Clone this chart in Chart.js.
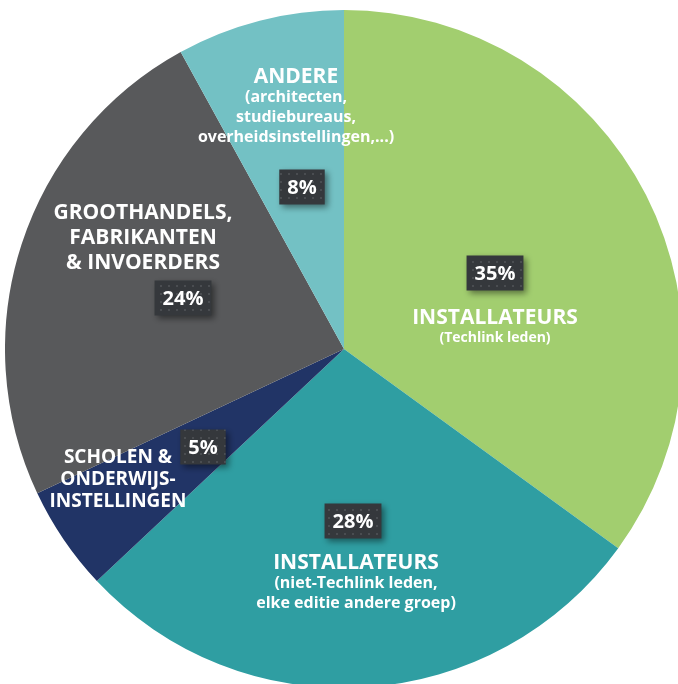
<!DOCTYPE html>
<html>
<head>
<meta charset="utf-8">
<script src="https://cdn.jsdelivr.net/npm/chart.js@4/dist/chart.umd.min.js"></script>
<style>
  html, body { margin: 0; padding: 0; background: #fff; overflow: hidden; }
  #wrap { position: absolute; left: 5px; top: 10px; width: 678px; height: 678px; }
</style>
</head>
<body>
<div id="wrap"><canvas id="pieChart"></canvas></div>
<script>
// slices clockwise from 12 o'clock
const categories = [
    'INSTALLATEURS',
    'INSTALLATEURS',
    'SCHOLEN & ONDERWIJSINSTELLINGEN',
    'GROOTHANDELS, FABRIKANTEN & INVOERDERS',
    'ANDERE'
];
const shares = [35, 28, 5, 24, 8];
const sliceColors = ['#a2ce6f', '#2f9ea2', '#213466', '#58595b', '#73c1c4'];

// label text, one entry per slice
const titleLines = [
    ['INSTALLATEURS'],
    ['INSTALLATEURS'],
    ['SCHOLEN &', 'ONDERWIJS-', 'INSTELLINGEN'],
    ['GROOTHANDELS,', 'FABRIKANTEN', '& INVOERDERS'],
    ['ANDERE']
];
const subtitleLines = [
    ['(Techlink leden)'],
    ['(niet-Techlink leden,', 'elke editie andere groep)'],
    [],
    [],
    ['(architecten,', 'studiebureaus,', 'overheidsinstellingen,...)']
];

// where each label sits, offsets from pie centre (in px of a 339 radius pie)
const labelLayout = [
    { box: [151, -76], title: [151, -31], titleSize: 21, lineH: 21, subSize: 14 },
    { box: [9, 172], title: [12, 214], titleSize: 21, lineH: 21, subSize: 16 },
    { box: [-141, 98], title: [-226, 109], titleSize: 19, lineH: 22, subSize: 16 },
    { box: [-161, -51], title: [-201, -136], titleSize: 21, lineH: 25, subSize: 16 },
    { box: [-42, -162], title: [-48, -272], titleSize: 21, lineH: 21, subSize: 16 }
];

function makeDotPattern(ctx) {
    const c = document.createElement('canvas');
    c.width = 8; c.height = 8;
    const p = c.getContext('2d');
    p.fillStyle = '#35383c';
    p.fillRect(0, 0, 8, 8);
    p.fillStyle = '#4a4d51';
    p.fillRect(3, 3, 2, 2);
    return ctx.createPattern(c, 'repeat');
}

const labelPlugin = {
    id: 'sliceLabels',
    afterDatasetsDraw(chart) {
        const ctx = chart.ctx;
        const arc = chart.getDatasetMeta(0).data[0];
        const cx = arc.x, cy = arc.y;
        const k = arc.outerRadius / 339;
        const pattern = makeDotPattern(ctx);
        ctx.save();
        ctx.textAlign = 'center';
        ctx.textBaseline = 'middle';
        shares.forEach((v, i) => {
            const L = labelLayout[i];
            // percentage box
            const txt = v + '%';
            ctx.font = 'bold 20px "Open Sans"';
            const w = ctx.measureText(txt).width + 16;
            const h = 35;
            const bx = cx + L.box[0] * k, by = cy + L.box[1] * k;
            ctx.save();
            ctx.shadowColor = 'rgba(0,0,0,0.45)';
            ctx.shadowBlur = 6;
            ctx.shadowOffsetX = 3;
            ctx.shadowOffsetY = 3;
            ctx.fillStyle = pattern;
            ctx.fillRect(bx - w / 2, by - h / 2, w, h);
            ctx.restore();
            ctx.fillStyle = '#ffffff';
            ctx.fillText(txt, bx, by + 1);

            // title + subtitle
            let tx = cx + L.title[0] * k, ty = cy + L.title[1] * k;
            ctx.font = 'bold ' + L.titleSize + 'px "Open Sans"';
            titleLines[i].forEach((line, j) => {
                ctx.fillText(line, tx, ty + j * L.lineH);
            });
            ty += (titleLines[i].length - 1) * L.lineH + 20;
            ctx.font = 'bold ' + L.subSize + 'px "Open Sans"';
            subtitleLines[i].forEach((line, j) => {
                ctx.fillText(line, tx, ty + j * 20);
            });
        });
        ctx.restore();
    }
};

new Chart(document.getElementById('pieChart').getContext('2d'), {
    type: 'pie',
    data: {
        labels: categories,
        datasets: [{
            data: shares,
            backgroundColor: sliceColors,
            borderWidth: 0
        }]
    },
    options: {
        responsive: true,
        maintainAspectRatio: false,
        animation: false,
        layout: { padding: 0 },
        plugins: {
            legend: { display: false },
            tooltip: { enabled: false }
        }
    },
    plugins: [labelPlugin]
});
</script>
</body>
</html>
